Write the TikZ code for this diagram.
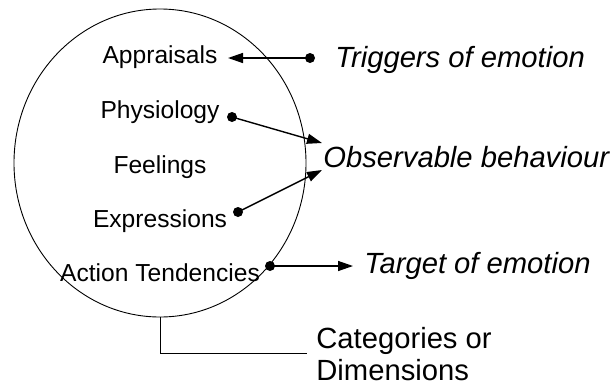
\documentclass[tikz,border=0pt]{standalone}
\usepackage{fontspec}
\setmainfont{Liberation Sans}
\usetikzlibrary{arrows.meta,shapes.geometric}
\begin{document}
\begin{tikzpicture}[x=0.5pt,y=-0.5pt,
  inlabel/.style={anchor=base,inner sep=0pt,font=\fontsize{12.3}{14}\selectfont},
  outlabel/.style={anchor=base west,inner sep=0pt,font=\fontsize{14.6}{17}\selectfont\itshape},
  catlabel/.style={anchor=base west,inner sep=0pt,font=\fontsize{14.6}{16}\selectfont,align=left},
  conn/.style={line width=0.7pt,-{Triangle[length=7.5pt,width=5pt]}},
  dotend/.style={circle,fill=black,inner sep=0pt,minimum size=5pt},
  thin/.style={line width=0.45pt}]
\useasboundingbox (0,0) rectangle (615,386);
% circle
\node[draw,thin,ellipse,minimum width=146pt,minimum height=154pt,inner sep=0pt] (circ) at (160,163) {};
% inner labels
\node[inlabel] (appr) at (160,63) {Appraisals};
\node[inlabel] (phys) at (160,118) {Physiology};
\node[inlabel] (feel) at (160,173) {Feelings};
\node[inlabel] (expr) at (160,227) {Expressions};
\node[inlabel] (act) at (160,281) {Action Tendencies};
% outer labels
\node[outlabel] (trig) at (335,67) {Triggers of emotion};
\node[outlabel] (obs) at (323,167) {Observable behaviour};
\node[outlabel] (targ) at (364,273) {Target of emotion};
\node[catlabel] (cat) at (316,380) {Categories or\\Dimensions};
% dots
\node[dotend] (d1) at (310,58) {};
\node[dotend] (d2) at (232,117) {};
\node[dotend] (d3) at (238,212) {};
\node[dotend] (d4) at (270,266) {};
% arrow tips
\coordinate (t1) at (228,58);
\coordinate (t2) at (322,143);
\coordinate (t3) at (322,170);
\coordinate (t4) at (353,266);
\draw[conn] (d1.center) -- (t1);
\draw[conn] (d2.center) -- (t2);
\draw[conn] (d3.center) -- (t3);
\draw[conn] (d4.center) -- (t4);
% bracket
\coordinate (b1) at (307,353);
\draw[thin] (circ.south) |- (b1);
\end{tikzpicture}
\end{document}
